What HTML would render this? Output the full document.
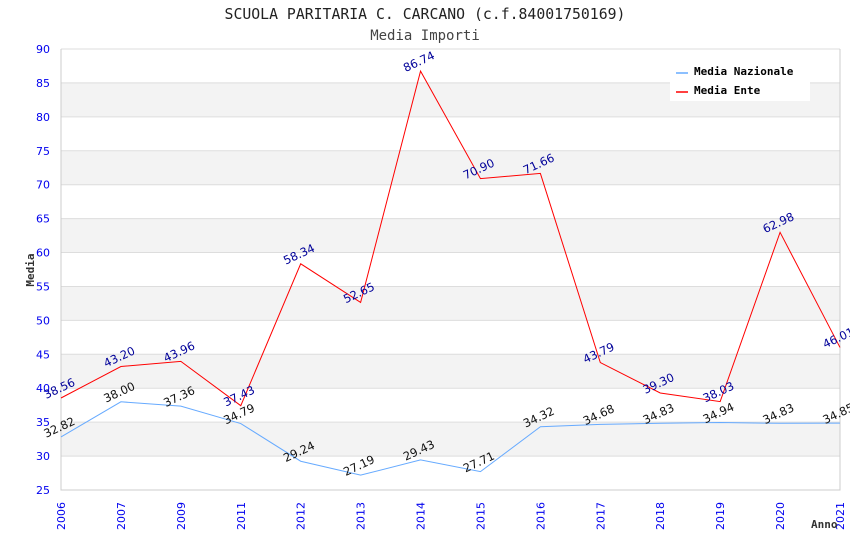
<!DOCTYPE html>
<html><head><meta charset="utf-8"><style>
body{margin:0;background:#fff;}
svg text{font-family:"DejaVu Sans","Liberation Sans",sans-serif;}
</style></head><body>
<svg id="chart" width="850" height="550" xmlns="http://www.w3.org/2000/svg">
<text x="425" y="19" text-anchor="middle" font-size="14.8" fill="#222" style="font-family:'DejaVu Sans Mono','Liberation Mono',monospace">SCUOLA PARITARIA C. CARCANO (c.f.84001750169)</text>
<text x="425" y="40" text-anchor="middle" font-size="14" fill="#444" style="font-family:'DejaVu Sans Mono','Liberation Mono',monospace">Media Importi</text>
<g id="bands"></g><g id="grid"></g><g id="axes"></g><g id="series"></g><g id="labels"></g>
<text transform="translate(34,270) rotate(-90)" text-anchor="middle" font-size="11" font-weight="bold" fill="#333" style="font-family:'DejaVu Sans Mono',monospace">Media</text>
<text x="811" y="528" font-size="11" font-weight="bold" fill="#333" style="font-family:'DejaVu Sans Mono',monospace">Anno</text>
<g>
<rect x="670" y="60" width="140" height="41" fill="#fff"/>
<line x1="676" y1="73" x2="688" y2="73" stroke="#66aaff" stroke-width="1.5"/>
<text x="694" y="75" font-size="11" font-weight="bold" fill="#000" style="font-family:'DejaVu Sans Mono',monospace">Media Nazionale</text>
<line x1="676" y1="92" x2="688" y2="92" stroke="#ff0000" stroke-width="1.5"/>
<text x="694" y="94" font-size="11" font-weight="bold" fill="#000" style="font-family:'DejaVu Sans Mono',monospace">Media Ente</text>
</g>
</svg>
<script>
const categories=["2006","2007","2009","2011","2012","2013","2014","2015","2016","2017","2018","2019","2020","2021"];
const enteValues=[38.56,43.20,43.96,37.43,58.34,52.65,86.74,70.90,71.66,43.79,39.30,38.03,62.98,46.01];
const nazValues=[32.82,38.00,37.36,34.79,29.24,27.19,29.43,27.71,34.32,34.68,34.83,34.94,34.83,34.85];
const yTicks=[25,30,35,40,45,50,55,60,65,70,75,80,85,90];
const NS="http://www.w3.org/2000/svg";
const L=61,R=840,T=49,B=490,yMin=25,yMax=90;
function xs(i){return L+(R-L)*i/(categories.length-1);}
function ys(v){return B-(v-yMin)/(yMax-yMin)*(B-T);}
function mk(tag,attrs,parent){const e=document.createElementNS(NS,tag);for(const k in attrs)e.setAttribute(k,attrs[k]);document.getElementById(parent).appendChild(e);return e;}
for(let i=0;i<yTicks.length-1;i++){
  const v=yTicks[i];
  if(v%10===0){const r=mk('rect',{x:L,y:ys(v+5),width:R-L,height:ys(v)-ys(v+5),fill:'#f3f3f3'},'bands');
  
  }
}
yTicks.forEach(v=>{
  const g=mk('line',{x1:L,x2:R,y1:ys(v),y2:ys(v),stroke:'#dddddd'},'grid');
  
  
  const t=mk('text',{x:50,y:ys(v)+4,'text-anchor':'end','font-size':'11',fill:'#0000ee'},'axes');
  t.textContent=v;
  
  
});
const ax=mk('path',{d:`M${L} ${T}V${B}H${R}V${T}`,fill:'none',stroke:'#cccccc'},'axes');


categories.forEach((c,i)=>{
  const t=mk('text',{transform:`translate(${xs(i)+4},${B+40}) rotate(-90)`,'font-size':'11',fill:'#0000ee'},'axes');
  t.textContent=c;
  
  
});
function series(vals,color,name,lblColor){
  const p=mk('polyline',{points:vals.map((v,i)=>xs(i)+','+ys(v)).join(' '),fill:'none',stroke:color,'stroke-width':'1'},'series');
  
  
  vals.forEach((v,i)=>{
    const t=mk('text',{transform:`translate(${xs(i)},${ys(v)-6}) rotate(-25)`,'text-anchor':'middle','font-size':'11.5',fill:lblColor},'labels');
    t.textContent=v.toFixed(2);
    
    
  });
}
series(nazValues,'#66aaff','nazionale','#111');
series(enteValues,'#ff0000','ente','#000099');
</script>
</body></html>
